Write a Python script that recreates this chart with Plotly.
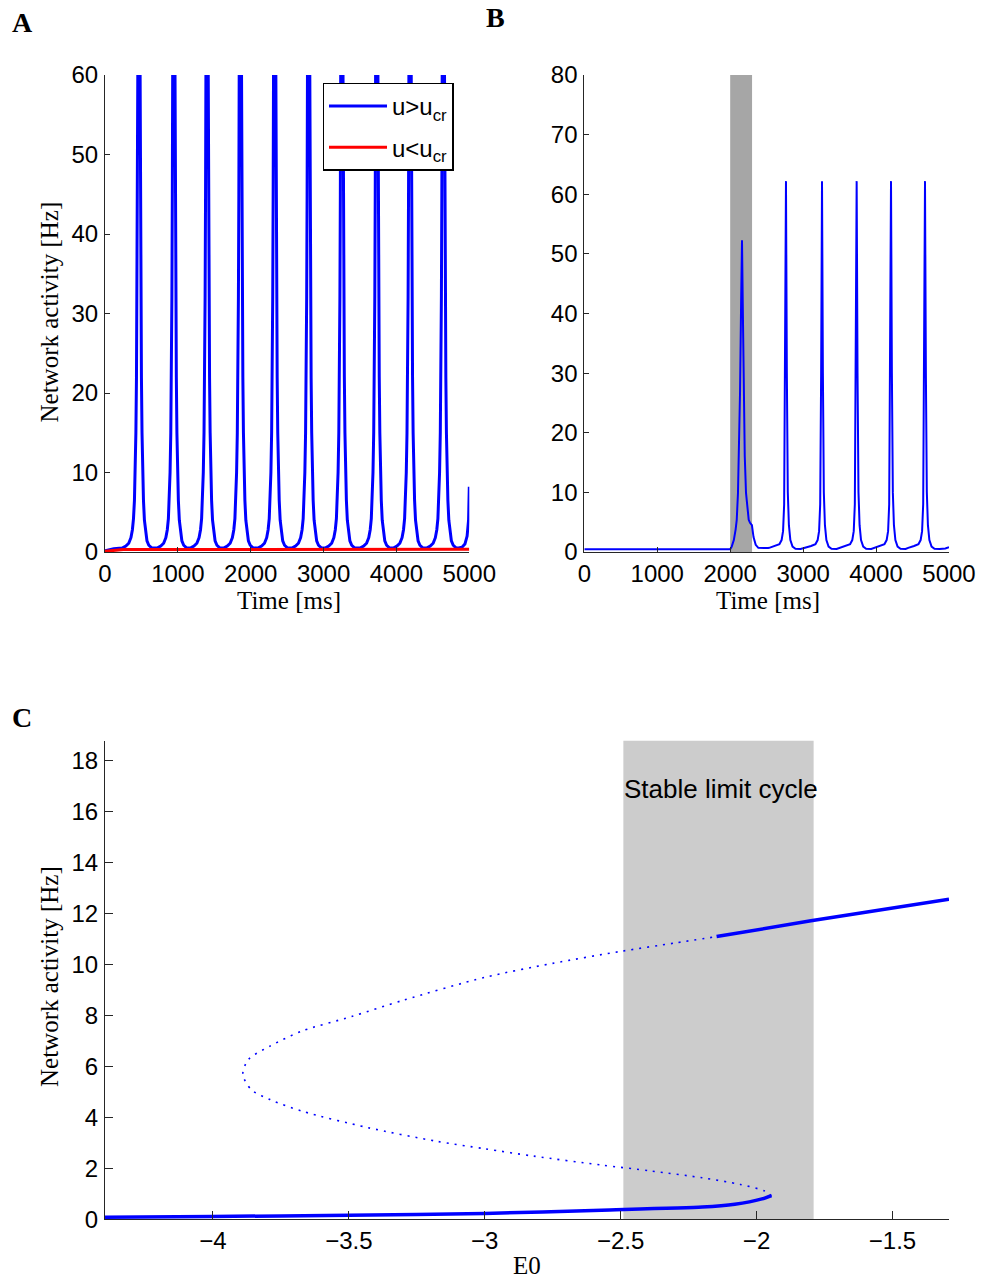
import plotly.graph_objects as go

# ---------------- data ----------------
# Panel A: network activity, u > u_cr (spiking) and u < u_cr (quiet)
A_peak_times = [466, 945, 1401, 1858, 2329, 2795, 3251, 3730, 4187, 4644]
A_spike_offsets = [-230, -180, -140, -110, -90, -75, -62, -52, -42, -34, -27, -21, -16, -8, 0,
                   8, 16, 21, 27, 34, 42, 52, 62, 75, 90, 110, 135, 170, 210]
A_spike_values = [0.5, 0.75, 1.1, 1.8, 2.8, 4.2, 6.5, 10, 15, 22, 32, 45, 60, 90, 110,
                  90, 60, 45, 32, 22, 15, 10, 6.5, 4.0, 2.5, 1.4, 0.85, 0.55, 0.5]
A_start_t = [0, 120]
A_start_r = [0.15, 0.4]
A_end_t = [4900, 4940, 4970, 4990, 5000]
A_end_r = [0.6, 1.0, 2.0, 4.0, 8.2]
A_low_t = [0, 250, 5000]
A_low_r = [0.1, 0.3, 0.35]

# Panel B: response to a pulse (gray window 2000-2300 ms)
B_pulse = [2000, 2300]
B_base_t = [0, 2000]
B_base_r = [0.45, 0.45]
B_first_t = [2021, 2050, 2075, 2090, 2107, 2135, 2150, 2162, 2172, 2185, 2200, 2217,
             2254, 2272, 2298, 2320, 2350, 2386, 2450, 2520]
B_first_r = [0.9, 2.0, 3.8, 5.4, 9.9, 26.7, 42, 52.3, 42, 26.7, 16, 9.9,
             5.4, 4.9, 4.5, 2.5, 1.2, 0.7, 0.62, 0.65]
B_peak_times = [2765, 3259, 3734, 4205, 4671]
B_spike_offsets = [-230, -150, -90, -60, -40, -25, -12, 0, 12, 25, 40, 60, 90, 130, 200]
B_spike_values = [0.7, 1.0, 1.3, 2.0, 3.5, 8, 30, 62.2, 30, 10, 4.5, 2.0, 0.9, 0.55, 0.5]
B_end_t = [4950, 5000]
B_end_r = [0.6, 0.8]

# Panel C: bifurcation diagram
C_low_E0 = [-4.397, -4.0, -3.5, -3.0, -2.57, -2.2, -2.08, -1.98, -1.945]
C_low_r = [0.08, 0.11, 0.16, 0.23, 0.36, 0.48, 0.59, 0.80, 0.93]
C_unst_E0 = [-1.945, -1.97, -2.06, -2.2, -2.39, -2.57, -2.82, -3.0, -3.18, -3.43, -3.67,
             -3.79, -3.86, -3.89, -3.87, -3.79, -3.67, -3.49, -3.3, -3.0, -2.75, -2.5,
             -2.3, -2.147]
C_unst_r = [0.93, 1.11, 1.37, 1.63, 1.9, 2.13, 2.48, 2.77, 3.07, 3.6, 4.24,
            4.7, 5.1, 5.7, 6.27, 6.8, 7.4, 7.96, 8.6, 9.5, 10.05, 10.52,
            10.85, 11.1]
C_up_E0 = [-2.147, -1.8, -1.292]
C_up_r = [11.1, 11.72, 12.57]
C_cycle = [-2.49, -1.79]

# ---------------- build traces ----------------
def spikes(peaks, offs, vals):
    t, r = [], []
    for p in peaks:
        for o, v in zip(offs, vals):
            t.append(p + o)
            r.append(v)
    return t, r

At, Ar = spikes(A_peak_times, A_spike_offsets, A_spike_values)
At = A_start_t + At + A_end_t
Ar = A_start_r + Ar + A_end_r

Bt, Br = spikes(B_peak_times, B_spike_offsets, B_spike_values)
Bt = B_base_t + B_first_t + Bt + B_end_t
Br = B_base_r + B_first_r + Br + B_end_r

BLUE = "#0000ff"
RED = "#ff0000"
SANS = "Liberation Sans, Arial, sans-serif"
SERIF = "Liberation Serif, Times New Roman, serif"

fig = go.Figure()
fig.add_trace(go.Scatter(x=At, y=Ar, mode="lines", line=dict(color=BLUE, width=3),
                         name="u>u<sub>cr</sub>", legendgroup="g1", xaxis="x", yaxis="y"))
fig.add_trace(go.Scatter(x=A_low_t, y=A_low_r, mode="lines", line=dict(color=RED, width=3),
                         name="u<u<sub>cr</sub>", legendgroup="g2", xaxis="x", yaxis="y"))
fig.add_trace(go.Scatter(x=Bt, y=Br, mode="lines", line=dict(color=BLUE, width=2),
                         showlegend=False, xaxis="x2", yaxis="y2"))
fig.add_trace(go.Scatter(x=C_unst_E0, y=C_unst_r, mode="lines",
                         line=dict(color=BLUE, width=1.6, dash="2px,6px", shape="spline", smoothing=0.8),
                         showlegend=False, xaxis="x3", yaxis="y3"))
fig.add_trace(go.Scatter(x=C_low_E0, y=C_low_r, mode="lines",
                         line=dict(color=BLUE, width=3.5, shape="spline", smoothing=0.6),
                         showlegend=False, xaxis="x3", yaxis="y3"))
fig.add_trace(go.Scatter(x=C_up_E0, y=C_up_r, mode="lines",
                         line=dict(color=BLUE, width=3.5),
                         showlegend=False, xaxis="x3", yaxis="y3"))

W, H = 981, 1280
def px(x):
    return x / W
def py(y):
    return 1 - y / H

axis_common = dict(showline=True, linecolor="#262626", linewidth=1, ticks="inside",
                   tickcolor="#262626", tickwidth=1, showgrid=False, zeroline=False,
                   mirror=False, automargin=False,
                   tickfont=dict(family=SANS, size=24, color="black"))

fig.update_layout(
    width=W, height=H, margin=dict(l=0, r=0, t=0, b=0, pad=0, autoexpand=False),
    paper_bgcolor="white", plot_bgcolor="white",
    xaxis=dict(domain=[px(105), px(469.3)], range=[0, 5000], tickvals=[0, 1000, 2000, 3000, 4000, 5000],
               anchor="y", ticklen=5, ticklabelstandoff=0, **axis_common),
    yaxis=dict(domain=[py(552), py(75)], range=[0, 60], tickvals=[0, 10, 20, 30, 40, 50, 60],
               anchor="x", ticklen=5, ticklabelstandoff=1, **axis_common),
    xaxis2=dict(domain=[px(584.3), px(949)], range=[0, 5000], tickvals=[0, 1000, 2000, 3000, 4000, 5000],
                anchor="y2", ticklen=5, ticklabelstandoff=0, **axis_common),
    yaxis2=dict(domain=[py(552), py(75)], range=[0, 80], tickvals=[0, 10, 20, 30, 40, 50, 60, 70, 80],
                anchor="x2", ticklen=5, ticklabelstandoff=1, **axis_common),
    xaxis3=dict(domain=[px(105), px(949)], range=[-4.397, -1.292], tickvals=[-4, -3.5, -3, -2.5, -2, -1.5],
                anchor="y3", ticklen=8, ticklabelstandoff=0, **axis_common),
    yaxis3=dict(domain=[py(1219.3), py(740.5)], range=[0, 18.8], tickvals=list(range(0, 19, 2)),
                anchor="x3", ticklen=8, ticklabelstandoff=1, **axis_common),
    legend=dict(x=px(322.7), y=py(82.7), xanchor="left", yanchor="top",
                bgcolor="white", bordercolor="black", borderwidth=1.3,
                font=dict(family=SANS, size=24, color="black"), itemwidth=58,
                tracegroupgap=7),
    showlegend=True,
)

# shaded regions
fig.add_shape(type="rect", xref="x2", yref="y2", x0=B_pulse[0], x1=B_pulse[1], y0=0, y1=80,
              fillcolor="#a6a6a6", line=dict(width=0), layer="below")
fig.add_shape(type="rect", xref="x3", yref="y3", x0=C_cycle[0], x1=C_cycle[1], y0=0, y1=18.8,
              fillcolor="#cccccc", line=dict(width=0), layer="below")

def ann(text, x, y, size, family, angle=0, bold=False, xref="paper", yref="paper"):
    t = f"<b>{text}</b>" if bold else text
    fig.add_annotation(text=t, x=x, y=y, xref=xref, yref=yref, showarrow=False,
                       textangle=angle, xanchor="center", yanchor="middle",
                       font=dict(family=family, size=size, color="black"))

ann("A", px(22), py(22), 28, SERIF, bold=True)
ann("B", px(495), py(18), 28, SERIF, bold=True)
ann("C", px(22), py(717), 28, SERIF, bold=True)
ann("Network activity [Hz]", px(49), py(312.5), 25, SERIF, angle=-90)
ann("Time [ms]", px(288.7), py(600.5), 25, SERIF)
ann("Time [ms]", px(768), py(600.5), 25, SERIF)
ann("Network activity [Hz]", px(49), py(977), 25, SERIF, angle=-90)
ann("E0", px(527), py(1265), 25, SERIF)
ann("Stable limit cycle", -2.131, 16.9, 26, SANS, xref="x3", yref="y3")

fig.write_html("out.html", config={"displayModeBar": False},
               post_script="document.body.style.margin='0px';")
